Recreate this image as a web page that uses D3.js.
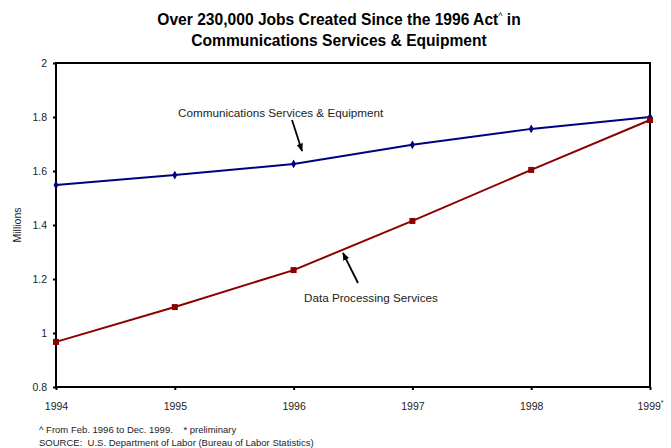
<!DOCTYPE html>
<html>
<head>
<meta charset="utf-8">
<script src="https://cdn.jsdelivr.net/npm/d3@7"></script>
<style>
  body { margin: 0; background: #fff; }
  svg { display: block; font-family: Arial, "Liberation Sans", sans-serif; }
</style>
</head>
<body>
<svg id="chart" width="671" height="448"></svg>
<script>
// Employment by year, in millions
const years = [1994, 1995, 1996, 1997, 1998, 1999];
const yearLabels = ["1994", "1995", "1996", "1997", "1998", "1999"];
const commServices = [1.548, 1.585, 1.626, 1.697, 1.756, 1.800];
const dataProcessing = [0.967, 1.096, 1.233, 1.415, 1.604, 1.789];
const yTicks = [0.8, 1, 1.2, 1.4, 1.6, 1.8, 2];

const svg = d3.select("#chart");
const margin = { left: 56, right: 21, top: 63, bottom: 61 };
const W = 671, H = 448;
const FONT = "Arial, 'Liberation Sans', sans-serif";

const x = d3.scaleLinear().domain([1994, 1999]).range([margin.left, W - margin.right]);
const y = d3.scaleLinear().domain([0.8, 2]).range([H - margin.bottom, margin.top]);

// Title
const title = svg.append("text").attr("x", 339).attr("y", 25)
  .attr("text-anchor", "middle").attr("font-size", 15.6).attr("font-weight", "bold");
title.append("tspan").text("Over 230,000 Jobs Created Since the 1996 Act");
title.append("tspan").attr("font-size", 9).attr("font-weight", "normal").attr("dy", -6).text("^");
title.append("tspan").attr("dy", 6).text(" in");
svg.append("text").attr("x", 339).attr("y", 46)
  .attr("text-anchor", "middle").attr("font-size", 15.6).attr("font-weight", "bold")
  .text("Communications Services & Equipment");

// Plot frame
svg.append("rect")
  .attr("x", x(1994)).attr("y", y(2))
  .attr("width", x(1999) - x(1994)).attr("height", y(0.8) - y(2))
  .attr("fill", "none").attr("stroke", "#000").attr("stroke-width", 2);

// Y axis
const yAxis = d3.axisLeft(y).tickValues(yTicks).tickSize(3).tickPadding(6)
  .tickFormat(d => d3.format("")(+d.toFixed(1)));
const gy = svg.append("g").attr("transform", `translate(${x(1994)},0)`).call(yAxis);
gy.select(".domain").remove();
gy.selectAll("line").attr("stroke", "#000").attr("stroke-width", 2);
gy.selectAll("text").attr("font-size", 10.5).attr("fill", "#222").attr("font-family", FONT);

// X axis
const xAxis = d3.axisBottom(x).tickValues(years).tickSize(3).tickPadding(13)
  .tickFormat((d, i) => yearLabels[i]);
const gx = svg.append("g").attr("transform", `translate(0,${y(0.8)})`).call(xAxis);
gx.select(".domain").remove();
gx.selectAll("line").attr("stroke", "#000").attr("stroke-width", 2);
gx.selectAll("text").attr("font-size", 10.5).attr("fill", "#222").attr("font-family", FONT);
// "preliminary" marker on the last year
gx.selectAll(".tick").filter(d => d === 1999).select("text")
  .append("tspan").attr("font-size", 7).attr("dy", -5).text("*");

// Axis title
svg.append("text").attr("transform", "translate(21,225) rotate(-90)")
  .attr("text-anchor", "middle").attr("font-size", 10.5).attr("fill", "#222").text("Millions");

// Series
const line = d3.line().x((d, i) => x(years[i])).y(d => y(d));

svg.append("path").datum(commServices).attr("d", line)
  .attr("fill", "none").attr("stroke", "#000080").attr("stroke-width", 2);
svg.append("path").datum(dataProcessing).attr("d", line)
  .attr("fill", "none").attr("stroke", "#8b0000").attr("stroke-width", 2);

// Markers
svg.selectAll(".mk-comm").data(commServices).enter().append("path")
  .attr("transform", (d, i) => `translate(${x(years[i])},${y(d)})`)
  .attr("d", d3.symbol().type(d3.symbolDiamond).size(22))
  .attr("fill", "#000080");
svg.selectAll(".mk-dp").data(dataProcessing).enter().append("rect")
  .attr("x", (d, i) => x(years[i]) - 3).attr("y", d => y(d) - 3)
  .attr("width", 6).attr("height", 6).attr("fill", "#8b0000");

// Annotations
svg.append("defs").append("marker").attr("id", "arrow")
  .attr("viewBox", "0 0 10 10").attr("refX", 9).attr("refY", 5)
  .attr("markerWidth", 4.5).attr("markerHeight", 4.5).attr("orient", "auto")
  .append("path").attr("d", "M0,1 L10,5 L0,9 z").attr("fill", "#000");

svg.append("text").attr("x", 178).attr("y", 117).attr("font-size", 11.7).attr("fill", "#222")
  .text("Communications Services & Equipment");
svg.append("line").attr("x1", 292).attr("y1", 120).attr("x2", 302).attr("y2", 151)
  .attr("stroke", "#000").attr("stroke-width", 1.8).attr("marker-end", "url(#arrow)");

svg.append("text").attr("x", 304).attr("y", 302).attr("font-size", 11.7).attr("fill", "#222")
  .text("Data Processing Services");
svg.append("line").attr("x1", 358).attr("y1", 283).attr("x2", 343).attr("y2", 253)
  .attr("stroke", "#000").attr("stroke-width", 1.8).attr("marker-end", "url(#arrow)");

// Footnotes
svg.append("text").attr("x", 39).attr("y", 433).attr("font-size", 9.5).attr("fill", "#222")
  .attr("xml:space", "preserve")
  .text("^ From Feb. 1996 to Dec. 1999.    * preliminary");
svg.append("text").attr("x", 39).attr("y", 446).attr("font-size", 9.5).attr("fill", "#222")
  .attr("xml:space", "preserve")
  .text("SOURCE:  U.S. Department of Labor (Bureau of Labor Statistics)");
</script>
</body>
</html>
